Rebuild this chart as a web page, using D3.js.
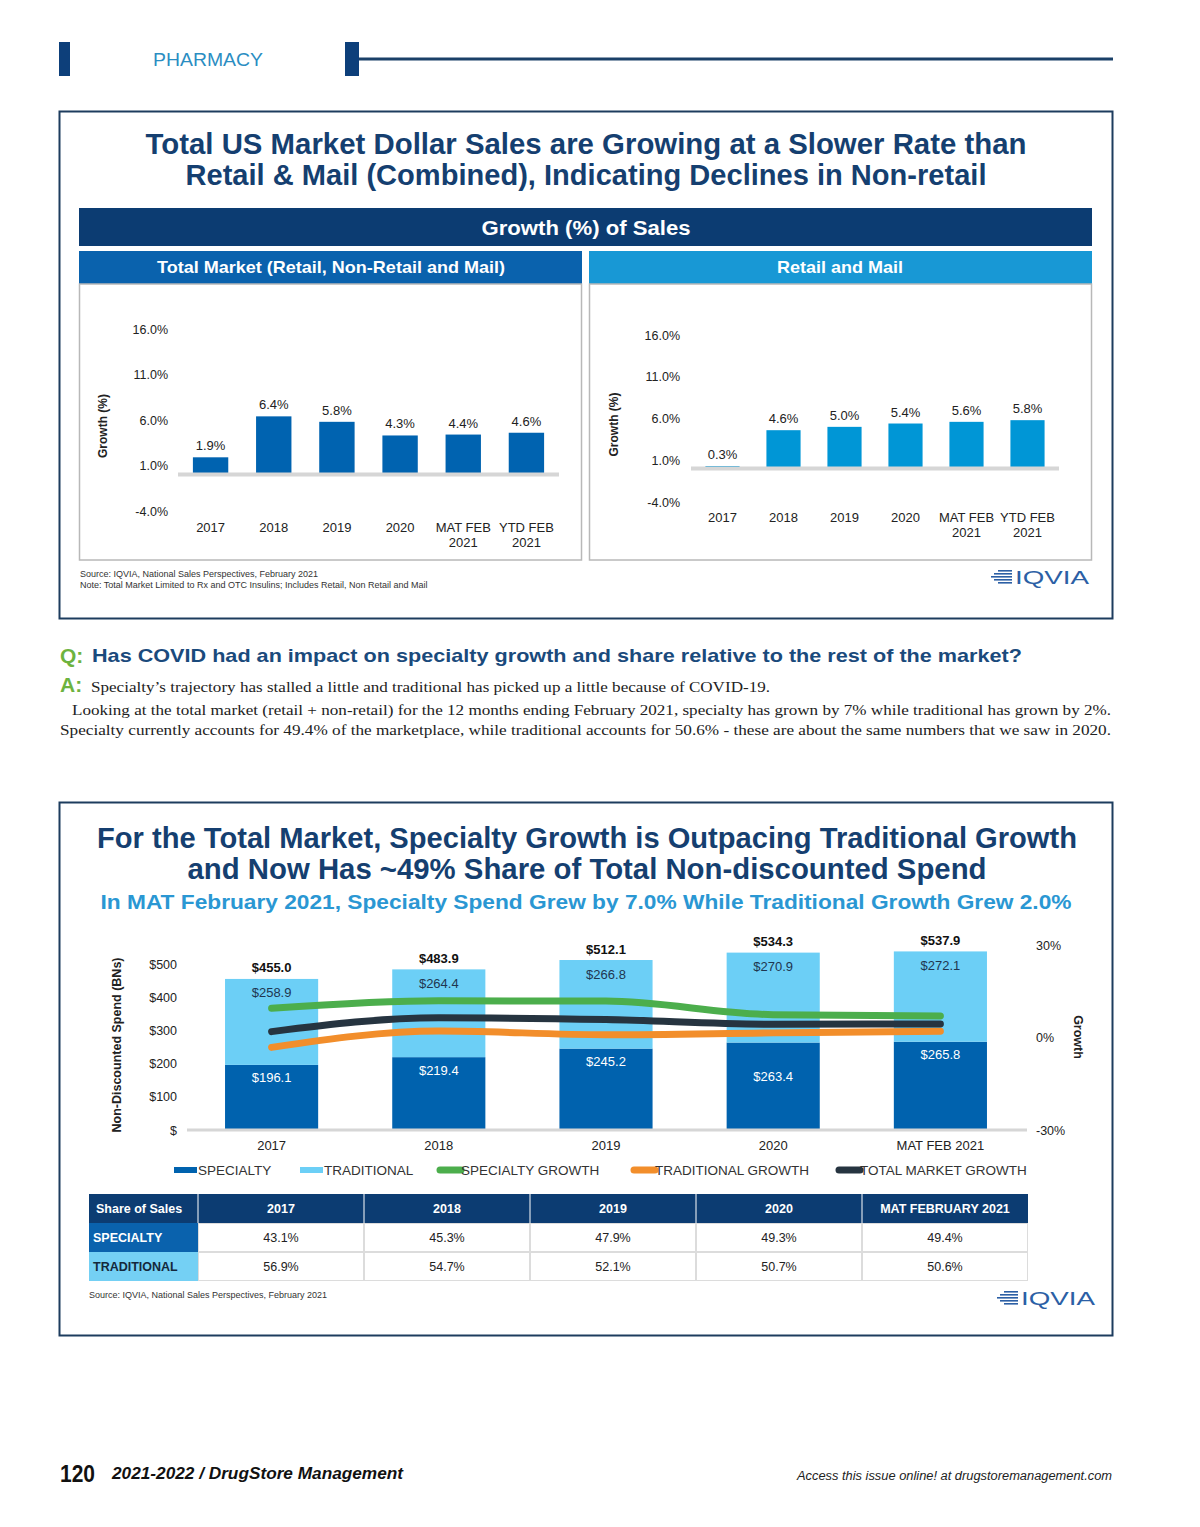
<!DOCTYPE html>
<html>
<head>
<meta charset="utf-8">
<script src="https://cdn.jsdelivr.net/npm/d3@7"></script>
<style>
  body { margin: 0; background: #fff; }
  svg { display: block; }
</style>
</head>
<body>
<svg id="page" width="1200" height="1527"></svg>
<script>
// DATA
const growthCats = ["2017", "2018", "2019", "2020", "MAT FEB\n2021", "YTD FEB\n2021"];
const totalMarketGrowth = [1.9, 6.4, 5.8, 4.3, 4.4, 4.6];
const retailMailGrowth = [0.3, 4.6, 5.0, 5.4, 5.6, 5.8];
const growthTicks = [-4, 1, 6, 11, 16];

const spendCats = ["2017", "2018", "2019", "2020", "MAT FEB 2021"];
const specialtySpend = [196.1, 219.4, 245.2, 263.4, 265.8];
const traditionalSpend = [258.9, 264.4, 266.8, 270.9, 272.1];
const totalSpend = [455.0, 483.9, 512.1, 534.3, 537.9];
const specialtyGrowth = [9.5, 11.9, 11.8, 7.4, 7.0];
const traditionalGrowth = [-3.2, 2.1, 0.9, 1.5, 2.0];
const totalGrowth = [1.9, 6.4, 5.8, 4.3, 4.4];
const spendTicks = [0, 100, 200, 300, 400, 500];
const rightTicks = [-30, 0, 30];

const shareCols = ["2017", "2018", "2019", "2020", "MAT FEBRUARY 2021"];
const specialtyShare = [43.1, 45.3, 47.9, 49.3, 49.4];
const traditionalShare = [56.9, 54.7, 52.1, 50.7, 50.6];

// COLOURS
const navy = "#0c3c72";
const titleBlue = "#153f70";
const midBlue = "#0a62ad";
const skyBlue = "#1898d5";
const lightBlue = "#6ccff6";
const green = "#4cae4c";
const orange = "#f28e2b";
const charcoal = "#263440";
const axisGrey = "#d6d6d6";
const sans = "'Liberation Sans', Arial, sans-serif";
const serif = "'Liberation Serif', 'Times New Roman', serif";

// plain hyphen for negatives, like the original
const pct1 = d3.formatLocale({ decimal: ".", thousands: ",", grouping: [3], currency: ["$", ""], minus: "-" }).format(".1f");

const svg = d3.select("#page");

function txt(g, x, y, s, o = {}) {
  const t = g.append("text")
    .attr("x", x).attr("y", y)
    .attr("font-family", o.family || sans)
    .attr("font-size", o.size || 13)
    .attr("font-weight", o.weight || "normal")
    .attr("font-style", o.style || "normal")
    .attr("fill", o.fill || "#222")
    .attr("text-anchor", o.anchor || "start")
    .text(s);
  if (o.fit) t.attr("textLength", o.fit).attr("lengthAdjust", "spacingAndGlyphs");
  return t;
}

function logo(g, x, y) {
  const c = "#2c5fa5";
  [14, 18, 21, 18, 14].forEach((w, i) => {
    g.append("rect").attr("x", x + 21 - w).attr("y", y - 7 + i * 3).attr("width", w).attr("height", 1.6).attr("fill", c);
  });
  txt(g, x + 24, y + 7, "IQVIA", { size: 19, fill: c, fit: 74 });
}

// PAGE HEADER
svg.append("rect").attr("x", 59).attr("y", 42).attr("width", 11).attr("height", 34).attr("fill", "#0d3f7a");
svg.append("rect").attr("x", 345).attr("y", 42).attr("width", 14).attr("height", 34).attr("fill", "#0d3f7a");
svg.append("line").attr("x1", 359).attr("x2", 1113).attr("y1", 59).attr("y2", 59)
  .attr("stroke", "#1a4068").attr("stroke-width", 3);
txt(svg, 153, 66, "PHARMACY", { size: 18, fill: "#2a8dc2", fit: 110 });

// TOP BOX
svg.append("rect").attr("x", 59.5).attr("y", 111.5).attr("width", 1053).attr("height", 507)
  .attr("fill", "none").attr("stroke", "#1d3c5e").attr("stroke-width", 2);
txt(svg, 586, 154, "Total US Market Dollar Sales are Growing at a Slower Rate than",
  { size: 29, weight: "bold", fill: titleBlue, anchor: "middle", fit: 881 });
txt(svg, 586, 185, "Retail & Mail (Combined), Indicating Declines in Non-retail",
  { size: 29, weight: "bold", fill: titleBlue, anchor: "middle", fit: 801 });

svg.append("rect").attr("x", 79).attr("y", 208).attr("width", 1013).attr("height", 38).attr("fill", navy);
txt(svg, 586, 235, "Growth (%) of Sales", { size: 20, weight: "bold", fill: "#fff", anchor: "middle", fit: 209 });

svg.append("rect").attr("x", 79).attr("y", 251).attr("width", 503).attr("height", 33).attr("fill", midBlue);
svg.append("rect").attr("x", 589).attr("y", 251).attr("width", 503).attr("height", 33).attr("fill", skyBlue);
txt(svg, 331, 273, "Total Market (Retail, Non-Retail and Mail)", { size: 17, weight: "bold", fill: "#fff", anchor: "middle", fit: 348 });
txt(svg, 840, 273, "Retail and Mail", { size: 17, weight: "bold", fill: "#fff", anchor: "middle", fit: 126 });

[79, 589].forEach(x => {
  svg.append("rect").attr("x", x + 0.5).attr("y", 284).attr("width", 502).attr("height", 276)
    .attr("fill", "none").attr("stroke", "#b8b8b8").attr("stroke-width", 1.5);
});

function growthPanel(cfg) {
  const g = svg.append("g");
  const x = d3.scaleBand().domain(growthCats).range([cfg.x0, cfg.x1]).paddingInner(0.44).paddingOuter(0.22);
  const y = d3.scaleLinear().domain([-4, 16]).range([cfg.yBottom, cfg.yTop]);

  const ya = g.append("g").attr("transform", `translate(${cfg.tickX},0)`)
    .call(d3.axisLeft(y).tickValues(growthTicks).tickSize(0).tickPadding(0).tickFormat(d => pct1(d) + "%"));
  ya.select(".domain").remove();
  ya.selectAll("text").attr("font-family", sans).attr("font-size", 12.5).attr("fill", "#222");

  g.selectAll("rect.bar").data(cfg.values).join("rect")
    .attr("class", "bar")
    .attr("x", (d, i) => x(growthCats[i]))
    .attr("width", x.bandwidth())
    .attr("y", d => y(d))
    .attr("height", d => y(0) - y(d))
    .attr("fill", cfg.color);

  g.append("line").attr("x1", cfg.x0 - 1).attr("x2", cfg.x1 + 1).attr("y1", y(0)).attr("y2", y(0))
    .attr("stroke", axisGrey).attr("stroke-width", 4);

  g.selectAll("text.val").data(cfg.values).join("text")
    .attr("class", "val")
    .attr("x", (d, i) => x(growthCats[i]) + x.bandwidth() / 2)
    .attr("y", d => y(d) - 7)
    .attr("text-anchor", "middle")
    .attr("font-family", sans).attr("font-size", 13).attr("fill", "#222")
    .text(d => pct1(d) + "%");

  const xa = g.append("g").attr("transform", `translate(0,${cfg.labelY})`)
    .call(d3.axisBottom(x).tickSize(0).tickPadding(0));
  xa.select(".domain").remove();
  xa.selectAll("text").each(function (d) {
    const t = d3.select(this).text(null).attr("font-family", sans).attr("font-size", 13).attr("fill", "#222").attr("dy", null).attr("y", 0);
    d.split("\n").forEach((line, k) => {
      t.append("tspan").attr("x", 0).attr("y", k * 14.5).text(line);
    });
  });

  txt(g, 0, 0, "Growth (%)", { size: 12, weight: "bold", anchor: "middle" })
    .attr("transform", `translate(${cfg.titleX},${(cfg.yTop + cfg.yBottom) / 2 + 6}) rotate(-90)`);
}

growthPanel({ x0: 179, x1: 558, yTop: 329, yBottom: 511, tickX: 168, labelY: 532, titleX: 107,
  values: totalMarketGrowth, color: "#0063b0" });
growthPanel({ x0: 692, x1: 1058, yTop: 335, yBottom: 502, tickX: 680, labelY: 522, titleX: 618,
  values: retailMailGrowth, color: "#0096d6" });

txt(svg, 80, 577, "Source: IQVIA, National Sales Perspectives, February 2021", { size: 9, fill: "#333" });
txt(svg, 80, 588, "Note: Total Market Limited to Rx and OTC Insulins; Includes Retail, Non Retail and Mail", { size: 9, fill: "#333" });
logo(svg, 991, 577);

// Q & A
const qGreen = "#6db33f";
txt(svg, 60, 663, "Q:", { size: 21, weight: "bold", fill: qGreen });
txt(svg, 92, 662, "Has COVID had an impact on specialty growth and share relative to the rest of the market?",
  { size: 19, weight: "bold", fill: "#1a4a7c", fit: 930 });
txt(svg, 60, 692, "A:", { size: 21, weight: "bold", fill: qGreen });
txt(svg, 91, 692, "Specialty’s trajectory has stalled a little and traditional has picked up a little because of COVID-19.",
  { family: serif, size: 15.5, fit: 679 });
txt(svg, 72, 715, "Looking at the total market (retail + non-retail) for the 12 months ending February 2021, specialty has grown by 7% while traditional has grown by 2%.",
  { family: serif, size: 15.5, fit: 1039 });
txt(svg, 60, 735, "Specialty currently accounts for 49.4% of the marketplace, while traditional accounts for 50.6% - these are about the same numbers that we saw in 2020.",
  { family: serif, size: 15.5, fit: 1051 });

// BOTTOM BOX
svg.append("rect").attr("x", 59.5).attr("y", 802.5).attr("width", 1053).attr("height", 533)
  .attr("fill", "none").attr("stroke", "#1d3c5e").attr("stroke-width", 2);
txt(svg, 587, 848, "For the Total Market, Specialty Growth is Outpacing Traditional Growth",
  { size: 29, weight: "bold", fill: titleBlue, anchor: "middle", fit: 980 });
txt(svg, 587, 879, "and Now Has ~49% Share of Total Non-discounted Spend",
  { size: 29, weight: "bold", fill: titleBlue, anchor: "middle", fit: 799 });
txt(svg, 586, 909, "In MAT February 2021, Specialty Spend Grew by 7.0% While Traditional Growth Grew 2.0%",
  { size: 21, weight: "bold", fill: "#2a97d3", anchor: "middle", fit: 971 });

const bx = d3.scaleBand().domain(spendCats).range([188, 1024]).paddingInner(0.443).paddingOuter(0.2215);
const by = d3.scaleLinear().domain([0, 500]).range([1130, 964]);
const gy = d3.scaleLinear().domain([-30, 30]).range([1130, 945]);
const bc = svg.append("g");

const lya = bc.append("g").attr("transform", "translate(177,0)")
  .call(d3.axisLeft(by).tickValues(spendTicks).tickSize(0).tickPadding(0).tickFormat(d => d === 0 ? "$" : "$" + d));
lya.select(".domain").remove();
lya.selectAll("text").attr("font-family", sans).attr("font-size", 12.5).attr("fill", "#222");

const rya = bc.append("g").attr("transform", "translate(1036,0)")
  .call(d3.axisRight(gy).tickValues(rightTicks).tickSize(0).tickPadding(0).tickFormat(d => d + "%"));
rya.select(".domain").remove();
rya.selectAll("text").attr("font-family", sans).attr("font-size", 12.5).attr("fill", "#222");

bc.selectAll("rect.spec").data(specialtySpend).join("rect")
  .attr("class", "spec")
  .attr("x", (d, i) => bx(spendCats[i])).attr("width", bx.bandwidth())
  .attr("y", d => by(d)).attr("height", d => by(0) - by(d))
  .attr("fill", "#0062ae");
bc.selectAll("rect.trad").data(traditionalSpend).join("rect")
  .attr("class", "trad")
  .attr("x", (d, i) => bx(spendCats[i])).attr("width", bx.bandwidth())
  .attr("y", (d, i) => by(specialtySpend[i] + d)).attr("height", d => by(0) - by(d))
  .attr("fill", lightBlue);

bc.append("line").attr("x1", 187).attr("x2", 1027).attr("y1", by(0)).attr("y2", by(0))
  .attr("stroke", axisGrey).attr("stroke-width", 3);

const cx = i => bx(spendCats[i]) + bx.bandwidth() / 2;
const line = d3.line().x((d, i) => cx(i)).y(d => gy(d)).curve(d3.curveMonotoneX);
[[traditionalGrowth, orange], [totalGrowth, charcoal], [specialtyGrowth, green]].forEach(([vals, col]) => {
  bc.append("path").attr("d", line(vals)).attr("fill", "none").attr("stroke", col)
    .attr("stroke-width", 7).attr("stroke-linecap", "round").attr("stroke-linejoin", "round");
});

const money = d3.format(".1f");
specialtySpend.forEach((d, i) => {
  // the 2020 label sits lower inside its bar in the original
  const off = spendCats[i] === "2020" ? 38 : 17.5;
  txt(bc, cx(i), by(d) + off, "$" + money(d), { size: 13, fill: "#fff", anchor: "middle" });
  txt(bc, cx(i), by(d + traditionalSpend[i]) + 18.5, "$" + money(traditionalSpend[i]), { size: 13, fill: "#1f3650", anchor: "middle" });
  txt(bc, cx(i), by(d + traditionalSpend[i]) - 6.5, "$" + money(totalSpend[i]), { size: 13, weight: "bold", fill: "#111", anchor: "middle" });
});

const bxa = bc.append("g").attr("transform", "translate(0,1141)")
  .call(d3.axisBottom(bx).tickSize(0).tickPadding(0));
bxa.select(".domain").remove();
bxa.selectAll("text").attr("font-family", sans).attr("font-size", 13).attr("fill", "#222");

txt(bc, 0, 0, "Non-Discounted Spend (BNs)", { size: 12.5, weight: "bold", anchor: "middle" })
  .attr("transform", "translate(121,1045) rotate(-90)");
txt(bc, 0, 0, "Growth", { size: 12.5, weight: "bold", anchor: "middle" })
  .attr("transform", "translate(1074,1037) rotate(90)");

// LEGEND
const legendItems = [
  { name: "SPECIALTY", color: "#0062ae", kind: "bar", x: 174 },
  { name: "TRADITIONAL", color: lightBlue, kind: "bar", x: 300 },
  { name: "SPECIALTY GROWTH", color: green, kind: "line", x: 437 },
  { name: "TRADITIONAL GROWTH", color: orange, kind: "line", x: 631 },
  { name: "TOTAL MARKET GROWTH", color: charcoal, kind: "line", x: 836 }
];
const lg = svg.append("g");
legendItems.forEach(it => {
  if (it.kind === "bar") {
    lg.append("rect").attr("x", it.x).attr("y", 1167).attr("width", 23).attr("height", 6).attr("fill", it.color);
  } else {
    lg.append("line").attr("x1", it.x + 3).attr("x2", it.x + 24).attr("y1", 1170).attr("y2", 1170)
      .attr("stroke", it.color).attr("stroke-width", 7).attr("stroke-linecap", "round");
  }
  txt(lg, it.x + 24, 1175, it.name, { size: 13.5, fill: "#333" });
});

// TABLE
const colX = [89, 198, 364, 530, 696, 862, 1028];
const rowY = [1194, 1223, 1252, 1281];
const tg = svg.append("g");
tg.append("rect").attr("x", colX[0]).attr("y", rowY[0]).attr("width", colX[6] - colX[0]).attr("height", rowY[1] - rowY[0]).attr("fill", navy);
txt(tg, colX[0] + 7, rowY[0] + 19, "Share of Sales", { size: 12.5, weight: "bold", fill: "#fff" });
shareCols.forEach((c, i) => {
  txt(tg, (colX[i + 1] + colX[i + 2]) / 2, rowY[0] + 19, c, { size: 12.5, weight: "bold", fill: "#fff", anchor: "middle" });
  if (i > 0) tg.append("line").attr("x1", colX[i + 1]).attr("x2", colX[i + 1]).attr("y1", rowY[0]).attr("y2", rowY[1]).attr("stroke", "#fff");
});
tg.append("line").attr("x1", colX[1]).attr("x2", colX[1]).attr("y1", rowY[0]).attr("y2", rowY[1]).attr("stroke", "#fff");

const rows = [
  { name: "SPECIALTY", vals: specialtyShare, bg: midBlue, fg: "#fff" },
  { name: "TRADITIONAL", vals: traditionalShare, bg: "#74d0f4", fg: "#14283c" }
];
rows.forEach((r, k) => {
  const y0 = rowY[k + 1], y1 = rowY[k + 2];
  tg.append("rect").attr("x", colX[0]).attr("y", y0).attr("width", colX[1] - colX[0]).attr("height", y1 - y0).attr("fill", r.bg);
  txt(tg, colX[0] + 4, y0 + 19, r.name, { size: 12.5, weight: "bold", fill: r.fg });
  r.vals.forEach((v, i) => {
    tg.append("rect").attr("x", colX[i + 1] + 0.5).attr("y", y0 + 0.5).attr("width", colX[i + 2] - colX[i + 1] - 1).attr("height", y1 - y0 - 1)
      .attr("fill", "#fff").attr("stroke", "#dcdcdc");
    txt(tg, (colX[i + 1] + colX[i + 2]) / 2, y0 + 19, d3.format(".1f")(v) + "%", { size: 12.5, fill: "#222", anchor: "middle" });
  });
});

txt(svg, 89, 1298, "Source: IQVIA, National Sales Perspectives, February 2021", { size: 9, fill: "#333" });
logo(svg, 997, 1298);

// FOOTER
txt(svg, 60, 1482, "120", { size: 23, weight: "bold", fill: "#111", fit: 35 });
txt(svg, 112, 1479, "2021-2022 / DrugStore Management", { size: 16, weight: "bold", style: "italic", fill: "#111", fit: 291 });
txt(svg, 797, 1480, "Access this issue online! at drugstoremanagement.com", { size: 12.5, style: "italic", fill: "#222", fit: 315 });
</script>
</body>
</html>
